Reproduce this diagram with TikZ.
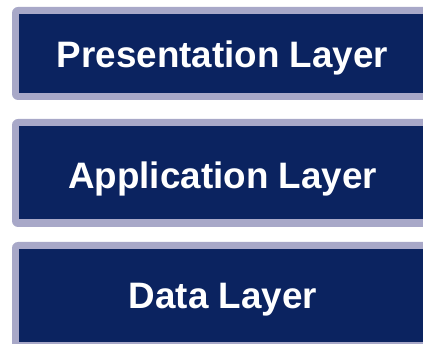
\documentclass[tikz,border=0pt]{standalone}
\usepackage{fontspec}
\setmainfont{Liberation Sans}
\definecolor{navy}{HTML}{0B2360}
\definecolor{framegray}{HTML}{A8A8C8}
\tikzset{
  frame/.style={fill=framegray, rounded corners=6pt},
  panel/.style={fill=navy},
  label/.style={anchor=base, text=white, inner sep=0pt, font=\bfseries\fontsize{36.8}{40}\selectfont}
}
\begin{document}
\begin{tikzpicture}[x=1pt,y=1pt]
\useasboundingbox (0,0) rectangle (423,-344);
% layer 1
\path[frame] (12,-7) rectangle (433,-100);
\path[panel] (19,-14) rectangle (426,-93);
\node[label] (pres) at (222.5,-68) {Presentation Layer};
% layer 2
\path[frame] (12,-119) rectangle (433,-227);
\path[panel] (19,-126) rectangle (426,-219);
\node[label] (app) at (222.5,-189) {Application Layer};
% layer 3
\path[frame] (12,-242) rectangle (433,-350);
\path[panel] (19,-249) rectangle (426,-342);
\node[label] (data) at (223,-309) {Data Layer};
\end{tikzpicture}
\end{document}
